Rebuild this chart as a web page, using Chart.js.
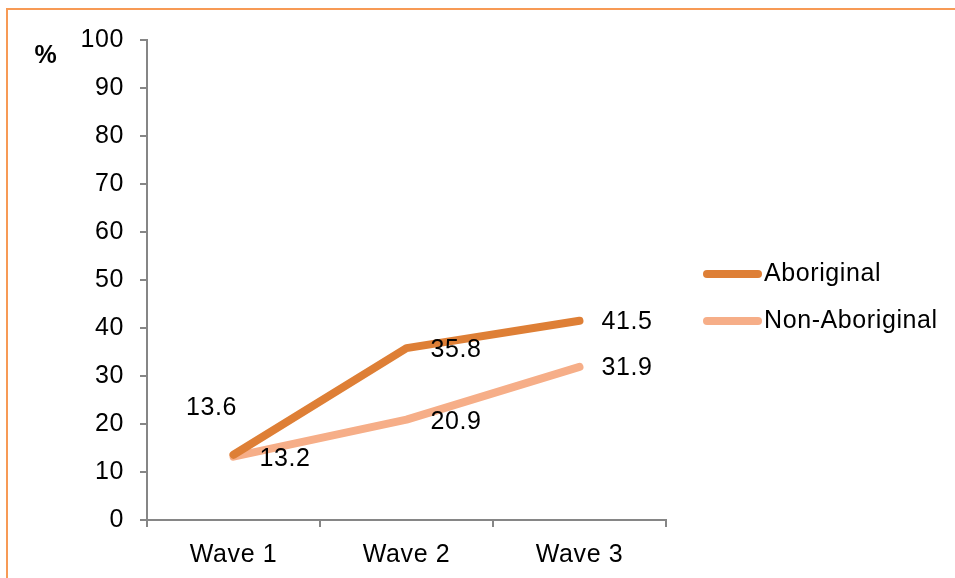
<!DOCTYPE html>
<html>
<head>
<meta charset="utf-8">
<style>
  html, body { margin: 0; padding: 0; background: #ffffff; }
  #wrap { position: relative; width: 955px; height: 578px; }
</style>
<script src="https://cdn.jsdelivr.net/npm/chart.js@4/dist/chart.umd.min.js"></script>
</head>
<body>
<div id="wrap"><canvas id="chart" width="955" height="578"></canvas></div>
<script>
// Survey waves and percentages per group
const waves = ['Wave 1', 'Wave 2', 'Wave 3'];
const aboriginal = [13.6, 35.8, 41.5];
const nonAboriginal = [13.2, 20.9, 31.9];
const seriesNames = ['Aboriginal', 'Non-Aboriginal'];
const yTicks = [0, 10, 20, 30, 40, 50, 60, 70, 80, 90, 100];

const FONT = '"Liberation Sans", Arial, sans-serif';
const FONT_SIZE = 25;
const COL_A = '#DE7F36';
const COL_N = '#F6AE88';
const AXIS = '#868686';

// Where each value label sits relative to its point
const labelPlacement = [
  [ {dx: -22, dy: -47, align: 'center'}, {dx: 24, dy: 2, align: 'left'}, {dx: 22, dy: 1, align: 'left'} ],
  [ {dx: 26, dy: 2, align: 'left'},      {dx: 24, dy: 2, align: 'left'}, {dx: 22, dy: 1, align: 'left'} ]
];

const framePlugin = {
  id: 'frame',
  beforeInit(chart) { chart.ctx.letterSpacing = '0.6px'; },
  beforeDraw(chart) {
    const ctx = chart.ctx;
    ctx.letterSpacing = '0.6px';
    ctx.save();
    ctx.strokeStyle = '#F79A55';
    ctx.lineWidth = 2;
    ctx.beginPath();
    ctx.moveTo(7, 578);
    ctx.lineTo(7, 9);
    ctx.lineTo(955, 9);
    ctx.stroke();
    // percent sign beside the value axis
    ctx.fillStyle = '#000';
    ctx.font = 'bold ' + FONT_SIZE + 'px ' + FONT;
    ctx.textAlign = 'center';
    ctx.textBaseline = 'middle';
    ctx.fillText('%', 46, 56);
    ctx.restore();
  }
};

const labelPlugin = {
  id: 'valueLabels',
  afterDatasetsDraw(chart) {
    const ctx = chart.ctx;
    ctx.save();
    ctx.font = FONT_SIZE + 'px ' + FONT;
    ctx.fillStyle = '#000';
    ctx.textBaseline = 'middle';
    chart.data.datasets.forEach((ds, di) => {
      const meta = chart.getDatasetMeta(di);
      meta.data.forEach((pt, i) => {
        const p = labelPlacement[di][i];
        ctx.textAlign = p.align;
        ctx.fillText(ds.data[i].toFixed(1), pt.x + p.dx, pt.y + p.dy);
      });
    });
    ctx.restore();
  }
};

const legendPlugin = {
  id: 'sideLegend',
  afterDraw(chart) {
    const ctx = chart.ctx;
    ctx.save();
    ctx.font = FONT_SIZE + 'px ' + FONT;
    ctx.textAlign = 'left';
    ctx.textBaseline = 'middle';
    chart.data.datasets.forEach((ds, di) => {
      const y = 274 + di * 47;
      ctx.strokeStyle = ds.borderColor;
      ctx.lineWidth = 8;
      ctx.lineCap = 'round';
      ctx.beginPath();
      ctx.moveTo(707, y);
      ctx.lineTo(758, y);
      ctx.stroke();
      ctx.fillStyle = '#000';
      ctx.fillText(ds.label, 764, y);
    });
    ctx.restore();
  }
};

new Chart(document.getElementById('chart'), {
  type: 'line',
  data: {
    labels: waves,
    datasets: [
      { label: seriesNames[0], data: aboriginal, borderColor: COL_A, backgroundColor: COL_A,
        borderWidth: 8, pointRadius: 0, borderCapStyle: 'round', borderJoinStyle: 'round', tension: 0 },
      { label: seriesNames[1], data: nonAboriginal, borderColor: COL_N, backgroundColor: COL_N,
        borderWidth: 8, pointRadius: 0, borderCapStyle: 'round', borderJoinStyle: 'round', tension: 0 }
    ]
  },
  options: {
    responsive: false,
    animation: false,
    events: [],
    layout: { padding: { left: 0, right: 289, top: 40, bottom: 0 } },
    plugins: { legend: { display: false }, tooltip: { enabled: false } },
    scales: {
      x: {
        offset: true,
        grid: { offset: true, drawOnChartArea: false, drawTicks: true, tickLength: 7, color: AXIS, lineWidth: 2 },
        border: { color: AXIS, width: 2 },
        ticks: { color: '#000', font: { family: FONT, size: FONT_SIZE }, padding: 13, maxRotation: 0 },
        afterFit(scale) { scale.height = 58; }
      },
      y: {
        min: 0, max: 100,
        afterBuildTicks(scale) { scale.ticks = yTicks.map(v => ({ value: v })); },
        grid: { drawOnChartArea: false, drawTicks: true, tickLength: 7, color: AXIS, lineWidth: 2 },
        border: { color: AXIS, width: 2 },
        ticks: { color: '#000', font: { family: FONT, size: FONT_SIZE }, padding: 16 },
        afterFit(scale) { scale.width = 147; }
      }
    }
  },
  plugins: [framePlugin, labelPlugin, legendPlugin]
});
</script>
</body>
</html>
